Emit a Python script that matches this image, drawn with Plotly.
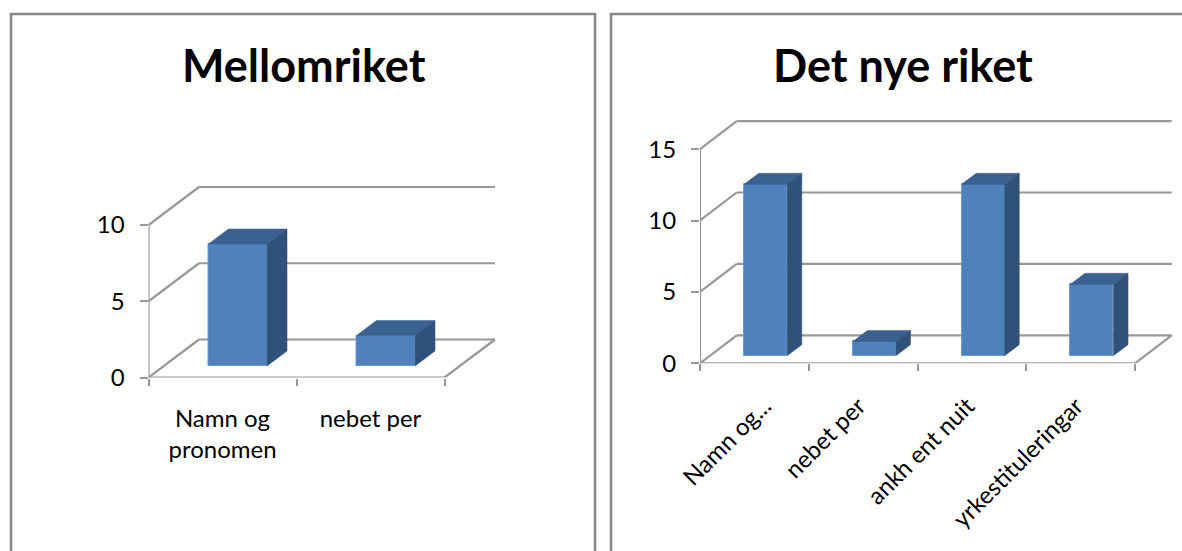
import plotly.graph_objects as go

W, H = 1182, 551

# --- data ---
titles = ["Mellomriket", "Det nye riket"]
left_categories = ["Namn og<br>pronomen", "nebet per"]
left_values = [8, 2]
left_yticks = [0, 5, 10]
right_categories = ["Namn og...", "nebet per", "ankh ent nuit", "yrkestituleringar"]
right_values = [12, 1, 12, 5]
right_yticks = [0, 5, 10, 15]

FONT = "Lato"
FRONT, TOP, SIDE = "#4F81BD", "#3B6190", "#30527A"
GRID = "#989898"
FRAME = "#888888"

fig = go.Figure()
shapes = []


def panel(idx, cats, vals, yticks, x0, y0, cat_px, unit_px, wall_dx, wall_dy,
          bar_lift, depth_dy, right_px, top_px, label_shifts, tickangle, standoff):
    ax = "" if idx == 1 else str(idx)
    xref, yref = "x" + ax, "y" + ax
    n = len(cats)
    wx = wall_dx / cat_px
    wy = wall_dy / unit_px
    bx = 0.135
    by = depth_dy / unit_px
    lift = bar_lift / unit_px
    width = 0.396

    def seg(xa, ya, xb, yb):
        shapes.append(dict(type="line", xref=xref, yref=yref, x0=xa, y0=ya, x1=xb, y1=yb,
                           line=dict(color=GRID, width=2.2), layer="below"))

    for v in yticks:
        seg(0, v, wx, v + wy)
        seg(wx, v + wy, n + wx, v + wy)
    seg(0, 0, 0, yticks[-1])
    seg(0, 0, n, 0)
    seg(n, 0, n + wx, wy)

    centers = [i + 0.603 for i in range(n)]
    fig.add_trace(go.Bar(x=centers, y=vals, base=[lift] * n, width=[width] * n,
                         marker=dict(color=FRONT, line=dict(color="#6F98CC", width=1)),
                         xaxis=xref, yaxis=yref, showlegend=False, hoverinfo="skip"))
    for c, v in zip(centers, vals):
        l, r = c - width / 2, c + width / 2
        b, t = lift, lift + v
        fig.add_trace(go.Scatter(x=[l, l + bx, r + bx, r, l], y=[t, t + by, t + by, t, t],
                                 mode="lines", fill="toself", fillcolor=TOP,
                                 line=dict(color=TOP, width=0.5),
                                 xaxis=xref, yaxis=yref, showlegend=False, hoverinfo="skip"))
        fig.add_trace(go.Scatter(x=[r, r + bx, r + bx, r, r], y=[t, t + by, b + by, b, t],
                                 mode="lines", fill="toself", fillcolor=SIDE,
                                 line=dict(color=SIDE, width=0.5),
                                 xaxis=xref, yaxis=yref, showlegend=False, hoverinfo="skip"))

    x_key = "xaxis" + ax
    y_key = "yaxis" + ax
    fig.update_layout({
        x_key: dict(
            domain=[x0 / W, right_px / W], range=[0, (right_px - x0) / cat_px],
            anchor=yref, showgrid=False, zeroline=False, showline=False,
            tickmode="array", tickvals=[i + 0.5 + label_shifts[i] for i in range(n)], ticktext=cats,
            ticks="", tickangle=tickangle, ticklabelstandoff=standoff,
            tickfont=dict(family=FONT, size=24, color="black"),
            minor=dict(tickmode="array", tickvals=list(range(n + 1)), ticks="outside",
                       ticklen=7, tickwidth=2.2, tickcolor=GRID, showgrid=False),
        ),
        y_key: dict(
            domain=[(H - y0) / H, (H - top_px) / H], range=[0, (y0 - top_px) / unit_px],
            anchor=xref, showgrid=False, zeroline=False, showline=False,
            tickmode="array", tickvals=yticks, ticktext=[str(t) for t in yticks],
            ticks="outside", ticklen=8, tickwidth=2.2, tickcolor=GRID, ticklabelstandoff=10,
            tickfont=dict(family=FONT, size=24, color="black"),
        ),
    })


panel(1, left_categories, left_values, left_yticks, 148.5, 377.5, 148, 15.25, 50.5, 38,
      11.5, 15, 510, 170, [0, 0], 0, 24)
panel(2, right_categories, right_values, right_yticks, 700, 363.3, 108.75, 14.28, 36.7, 28,
      7.6, 11, 1180, 110, [0.09, -0.04, -0.04, -0.04], -45, 23)

for x0, x1 in [(11, 595), (611, 1200)]:
    shapes.append(dict(type="rect", xref="paper", yref="paper",
                       x0=x0 / W, x1=x1 / W, y0=-0.05, y1=(H - 14) / H,
                       line=dict(color=FRAME, width=2.6), layer="below"))

annotations = [
    dict(text=f"<b>{t}</b>", xref="paper", yref="paper", x=cx / W, y=(H - 65) / H,
         xanchor="center", yanchor="middle", showarrow=False,
         font=dict(family=FONT, size=45, color="black"))
    for t, cx in zip(titles, [303.5, 903.5])
]

fig.update_layout(width=W, height=H, margin=dict(l=0, r=0, t=0, b=0, autoexpand=False),
                  paper_bgcolor="white", plot_bgcolor="rgba(0,0,0,0)",
                  shapes=shapes, annotations=annotations, showlegend=False, bargap=0)

fig.write_html("out.html", config={"displayModeBar": False},
               post_script="document.body.style.margin='0';document.body.style.overflow='hidden';")
